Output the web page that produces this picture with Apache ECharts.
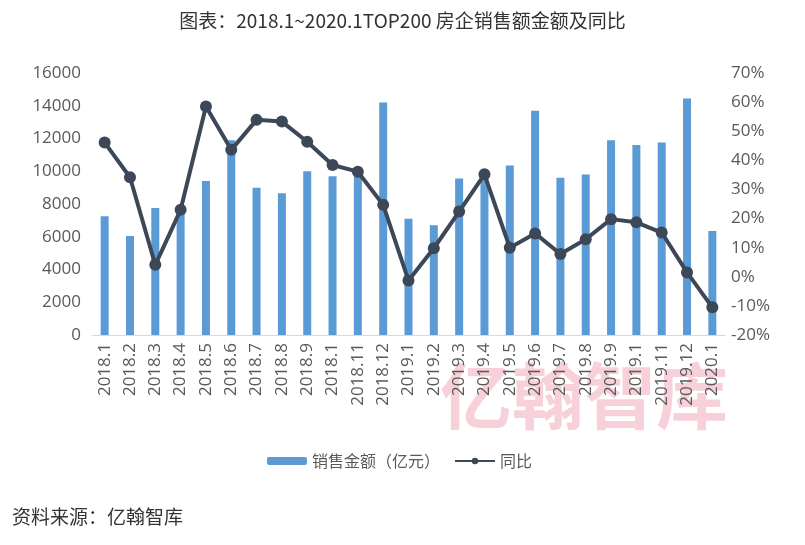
<!DOCTYPE html>
<html>
<head>
<meta charset="utf-8">
<script src="https://cdn.jsdelivr.net/npm/echarts@6/dist/echarts.min.js"></script>
<style>
  html, body { margin: 0; padding: 0; background: #fff; }
  #main { width: 805px; height: 545px; }
</style>
</head>
<body>
<div id="main"></div>
<script>
// 月份
let months = ['2018.1', '2018.2', '2018.3', '2018.4', '2018.5', '2018.6', '2018.7', '2018.8', '2018.9', '2018.1',
    '2018.11', '2018.12', '2019.1', '2019.2', '2019.3', '2019.4', '2019.5', '2019.6', '2019.7', '2019.8',
    '2019.9', '2019.1', '2019.11', '2019.12', '2020.1'];
// 销售金额（亿元）
let salesAmount = [7250, 6050, 7750, 7500, 9400, 11900, 9000, 8650, 10000, 9700,
    9800, 14200, 7100, 6700, 9550, 9800, 10350, 13700, 9600, 9800,
    11900, 11600, 11750, 14450, 6350];
// 同比（%）
let yoy = [46.1, 34.2, 4.1, 23.0, 58.5, 43.6, 53.9, 53.3, 46.4, 38.4,
    36.1, 24.7, -1.3, 9.8, 22.4, 35.2, 10.0, 14.9, 7.8, 12.9,
    19.8, 18.7, 15.2, 1.5, -10.5];

let cjkFont = '"Noto Sans CJK SC", sans-serif';
let numFont = '"Open Sans", "Noto Sans", sans-serif';
let labelColor = '#595959';

let chart = echarts.init(document.getElementById('main'));
let option = {
    backgroundColor: '#fff',
    textStyle: { fontFamily: cjkFont },
    title: {
        text: '图表：2018.1~2020.1TOP200 房企销售额金额及同比',
        left: 'center',
        top: 6,
        textStyle: { fontSize: 19, fontWeight: 'normal', color: '#333', fontFamily: cjkFont }
    },
    legend: {
        left: 262,
        top: 448,
        itemWidth: 40,
        itemHeight: 8,
        itemGap: 14,
        textStyle: { fontSize: 16, color: labelColor, fontFamily: cjkFont },
        data: ['销售金额（亿元）', '同比']
    },
    grid: { left: 92, right: 80, top: 73, bottom: 210 },
    xAxis: {
        type: 'category',
        data: months,
        axisLine: { lineStyle: { color: '#d9d9d9' } },
        axisTick: { show: false },
        axisLabel: { rotate: 90, interval: 0, fontSize: 17, color: labelColor, margin: 8, fontFamily: numFont }
    },
    yAxis: [{
        type: 'value',
        min: 0, max: 16000, interval: 2000,
        splitLine: { show: false },
        axisLine: { show: false },
        axisTick: { show: false },
        axisLabel: { fontSize: 17, color: labelColor, margin: 11, fontFamily: numFont, formatter: v => String(v) }
    }, {
        type: 'value',
        min: -20, max: 70, interval: 10,
        splitLine: { show: false },
        axisLine: { show: false },
        axisTick: { show: false },
        axisLabel: { fontSize: 17, color: labelColor, margin: 6, fontFamily: numFont, formatter: '{value}%' }
    }],
    graphic: [{
        type: 'text',
        left: 440,
        top: 360,
        z: -1,
        silent: true,
        style: {
            text: '亿翰智库',
            font: 'bold 72px "Noto Sans CJK SC"',
            fill: 'rgba(232, 120, 145, 0.35)'
        }
    }, {
        type: 'text',
        left: 12,
        top: 507,
        style: {
            text: '资料来源：亿翰智库',
            font: '19px "Noto Sans CJK SC"',
            fill: '#333'
        }
    }],
    series: [{
        name: '销售金额（亿元）',
        type: 'bar',
        data: salesAmount,
        barWidth: 8,
        itemStyle: { color: '#5b9bd5' }
    }, {
        name: '同比',
        type: 'line',
        yAxisIndex: 1,
        data: yoy,
        symbol: 'circle',
        symbolSize: 12,
        lineStyle: { color: '#3c4758', width: 4 },
        itemStyle: { color: '#3c4758' }
    }]
};
chart.setOption(option);
</script>
</body>
</html>
